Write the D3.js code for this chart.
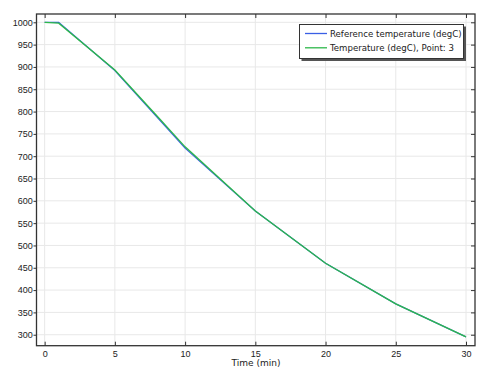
<!DOCTYPE html>
<html><head><meta charset="utf-8">
<script src="https://cdn.jsdelivr.net/npm/d3@7"></script>
<style>body{margin:0;background:#fff}svg{display:block;font-family:"DejaVu Sans",sans-serif}</style>
</head><body><svg id="c" width="498" height="378"></svg>
<script>
const xTicks = [0,5,10,15,20,25,30];
const yTicks = [300,350,400,450,500,550,600,650,700,750,800,850,900,950,1000];
const refTime = [0,1,5,10,15,20,25,30];
const refTemp = [1000,1000,892,718,577,460,369,295];
const ptTime = [0,1,5,8,10,15,20,25,30];
const ptTemp = [1000,998,893,790,721,577,460,369,295];
const seriesNames = ["Reference temperature (degC)","Temperature (degC), Point: 3"];
const seriesColors = ["#3a5fe5","#2db84a"];

const svg = d3.select("#c");
const L=36.5,R=475,T=14,B=345.7;
const FS=9;
const x = d3.scaleLinear().domain([-0.58,30.64]).range([L,R]);
const y = d3.scaleLinear().domain([275.4,1018.6]).range([B,T]);

// grid
svg.append("g").selectAll("line").data(xTicks).join("line")
 .attr("x1",d=>x(d)).attr("x2",d=>x(d)).attr("y1",T).attr("y2",B)
 .attr("stroke","#e8e8e8").attr("stroke-width",1);
svg.append("g").selectAll("line").data(yTicks).join("line")
 .attr("y1",d=>y(d)).attr("y2",d=>y(d)).attr("x1",L).attr("x2",R)
 .attr("stroke","#e8e8e8").attr("stroke-width",1);

// axes
const fmt = d3.format("d");
const ax = (g)=>{g.select(".domain").remove();g.selectAll("text").attr("fill","#222").attr("font-size",FS);g.selectAll("line").attr("stroke","#333");};
svg.append("g").attr("transform",`translate(0,${B})`).call(d3.axisBottom(x).tickValues(xTicks).tickFormat(fmt).tickSizeInner(-4).tickPadding(4.5)).call(ax);
svg.append("g").attr("transform",`translate(0,${T})`).call(d3.axisTop(x).tickValues(xTicks).tickFormat("").tickSizeInner(-4)).call(ax);
svg.append("g").attr("transform",`translate(${L},0)`).call(d3.axisLeft(y).tickValues(yTicks).tickFormat(fmt).tickSizeInner(3).tickPadding(0.8)).call(ax);
svg.append("g").attr("transform",`translate(${R},0)`).call(d3.axisRight(y).tickValues(yTicks).tickFormat("").tickSizeInner(-4)).call(ax);

svg.append("rect").attr("x",L).attr("y",T).attr("width",R-L).attr("height",B-T)
 .attr("fill","none").attr("stroke","#333").attr("stroke-width",1.3);

// lines
const line = d3.line().x(d=>x(d[0])).y(d=>y(d[1]));
const s1 = refTime.map((t,i)=>[t,refTemp[i]]);
const s2 = ptTime.map((t,i)=>[t,ptTemp[i]]);
[s1,s2].forEach((s,i)=>svg.append("path").datum(s).attr("d",line)
 .attr("fill","none").attr("stroke",seriesColors[i]).attr("stroke-width",1.3));

// axis title
svg.append("text").attr("x",256).attr("y",365.5).attr("text-anchor","middle")
 .attr("font-size",FS).attr("fill","#222").text("Time (min)");

// legend
const lg = svg.append("g");
lg.append("rect").attr("x",301.5).attr("y",26.5).attr("width",164.5).attr("height",34.5).attr("fill","#555");
lg.append("rect").attr("x",299.5).attr("y",24.5).attr("width",164).attr("height",34).attr("fill","#fff").attr("stroke","#333").attr("stroke-width",1);
seriesNames.forEach((n,i)=>{
  const yy = 33.5 + i*14.3;
  lg.append("line").attr("x1",305).attr("x2",327).attr("y1",yy).attr("y2",yy).attr("stroke",seriesColors[i]).attr("stroke-width",1.3);
  lg.append("text").attr("x",330).attr("y",yy).attr("dy","0.35em").attr("font-size",8.6).attr("fill","#222").text(n);
});
</script></body></html>
